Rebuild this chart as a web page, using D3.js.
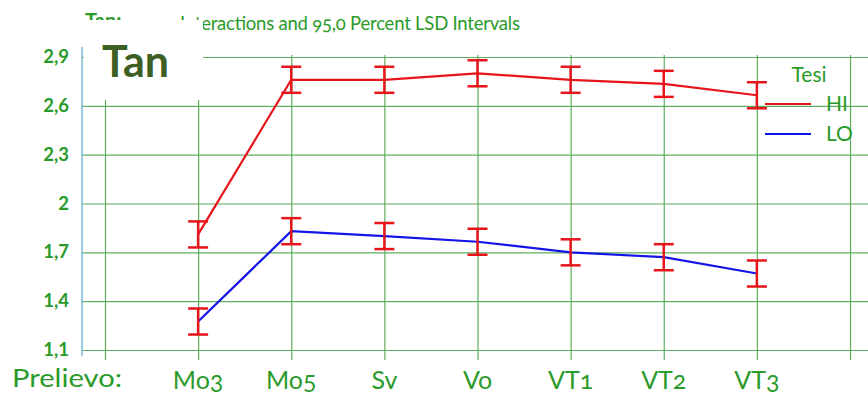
<!doctype html>
<html>
<head>
<meta charset="UTF-8" />
<script src="https://d3js.org/d3.v7.min.js"></script>
<style>
  body { margin: 0; background: #fff; }
  svg text { font-family: Lato, "Noto Sans", sans-serif; font-variant-numeric: oldstyle-nums; }
</style>
</head>
<body>
<svg id="chart" width="868" height="395"></svg>
<script>
  // categories and series (means), LSD half interval
  const prelievi = ["Mo3", "Mo5", "Sv", "Vo", "VT1", "VT2", "VT3"];
  const valuesHI = [1.81, 2.76, 2.76, 2.80, 2.76, 2.735, 2.665];
  const valuesLO = [1.275, 1.83, 1.80, 1.765, 1.70, 1.67, 1.57];
  const lsdHalf = [0.08, 0.08, 0.08, 0.08, 0.08, 0.08, 0.08];
  const yTicks = [1.1, 1.4, 1.7, 2.0, 2.3, 2.6, 2.9];
  const series = [
    { name: "HI", values: valuesHI, color: "#e8141b" },
    { name: "LO", values: valuesLO, color: "#1414e6" }
  ];

  (function () {
  const svg = d3.select("#chart");
  const green = "#2a9a2a";
  const gridColor = "#5fae5f";

  const x = d3.scaleLinear().domain([-1, 7]).range([105, 850]);
  const y = d3.scaleLinear().domain([1.1, 2.9]).range([350, 57]);
  const plotLeft = 82, plotRight = 868, plotTop = 55, plotBottom = 356;

  // horizontal grid
  svg.append("g")
    .attr("transform", "translate(" + plotLeft + ",0)")
    .call(d3.axisRight(y).tickValues(yTicks).tickSize(plotRight - plotLeft).tickFormat(""))
    .call(g => g.select(".domain").remove())
    .call(g => g.selectAll("line").attr("stroke", gridColor).attr("stroke-width", 1.2));

  // vertical grid
  svg.append("g")
    .attr("transform", "translate(0," + plotTop + ")")
    .call(d3.axisBottom(x).tickValues(d3.range(-1, 8)).tickSize(plotBottom - plotTop + 4).tickFormat(""))
    .call(g => g.select(".domain").remove())
    .call(g => g.selectAll("line").attr("stroke", gridColor).attr("stroke-width", 1.2));

  // y tick labels
  svg.append("g").selectAll("text")
    .data(yTicks)
    .enter().append("text")
    .attr("x", 69)
    .attr("y", d => y(d) + 6)
    .attr("text-anchor", "end")
    .attr("fill", green)
    .attr("font-weight", "bold")
    .attr("font-size", 18.5)
    .style("font-variant-numeric", "lining-nums")
    .text(d => d3.format(".1f")(d).replace(".0", "").replace(".", ","));

  // lines
  const line = d3.line().x((d, i) => x(i)).y(d => y(d));
  series.forEach(s => {
    svg.append("path")
      .datum(s.values)
      .attr("fill", "none")
      .attr("stroke", s.color)
      .attr("stroke-width", 2.2)
      .attr("d", line);
  });

  // LSD intervals
  series.forEach(s => {
    const g = svg.append("g").attr("stroke", "#e8141b").attr("stroke-width", 2.5);
    s.values.forEach((v, i) => {
      const cx = x(i), y0 = y(v - lsdHalf[i]), y1 = y(v + lsdHalf[i]);
      g.append("line").attr("x1", cx).attr("x2", cx).attr("y1", y0).attr("y2", y1);
      g.append("line").attr("x1", cx - 10).attr("x2", cx + 10).attr("y1", y0).attr("y2", y0);
      g.append("line").attr("x1", cx - 10).attr("x2", cx + 10).attr("y1", y1).attr("y2", y1);
    });
  });

  // title (partly hidden by the label box)
  svg.append("text")
    .attr("x", 85).attr("y", 28)
    .attr("fill", green)
    .attr("font-weight", "bold")
    .attr("font-size", 20)
    .text("Tan:");
  svg.append("text")
    .attr("x", 180).attr("y", 30)
    .attr("fill", green)
    .attr("font-size", 18.5)
    .attr("textLength", 340)
    .attr("lengthAdjust", "spacing")
    .text("Interactions and 95,0 Percent LSD Intervals");

  // white label box with "Tan"
  svg.append("rect")
    .attr("x", 84).attr("y", 20).attr("width", 119).attr("height", 80)
    .attr("fill", "#fff");
  svg.append("text")
    .attr("x", 102).attr("y", 77)
    .attr("fill", "#3d5f24")
    .attr("font-weight", "bold")
    .attr("font-size", 43)
    .text("Tan");

  // left axis line
  svg.append("line")
    .attr("x1", plotLeft).attr("x2", plotLeft)
    .attr("y1", 47).attr("y2", plotBottom)
    .attr("stroke", "#7ab8d0").attr("stroke-width", 1.5);

  // legend
  svg.append("text")
    .attr("x", 809).attr("y", 82)
    .attr("text-anchor", "middle")
    .attr("fill", green)
    .attr("font-size", 21)
    .text("Tesi");
  series.forEach((s, i) => {
    const ly = 104 + i * 30;
    svg.append("line")
      .attr("x1", 765).attr("x2", 811).attr("y1", ly).attr("y2", ly)
      .attr("stroke", s.color).attr("stroke-width", 2.2);
    svg.append("text")
      .attr("x", 826).attr("y", ly + 7)
      .attr("fill", green)
      .attr("font-size", 21)
      .text(s.name);
  });

  // x labels
  svg.append("text")
    .attr("x", 12).attr("y", 387)
    .attr("fill", green)
    .attr("font-size", 25)
    .attr("textLength", 110)
    .attr("lengthAdjust", "spacingAndGlyphs")
    .text("Prelievo:");
  svg.append("g").selectAll("text")
    .data(prelievi)
    .enter().append("text")
    .attr("x", (d, i) => x(i))
    .attr("y", 389)
    .attr("text-anchor", "middle")
    .attr("fill", green)
    .attr("font-size", 25)
    .text(d => d);
  })();
</script>
</body>
</html>
